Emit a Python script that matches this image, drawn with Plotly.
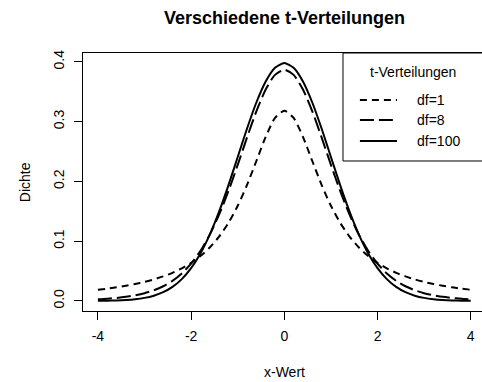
import plotly.graph_objects as go

# x positions
x_vals = [-4.0, -3.8, -3.6, -3.4, -3.2, -3.0, -2.8, -2.6, -2.4, -2.2, -2.0,
          -1.8, -1.6, -1.4, -1.2, -1.0, -0.8, -0.6, -0.4, -0.2, 0.0,
          0.2, 0.4, 0.6, 0.8, 1.0, 1.2, 1.4, 1.6, 1.8, 2.0,
          2.2, 2.4, 2.6, 2.8, 3.0, 3.2, 3.4, 3.6, 3.8, 4.0]

dens_df1 = [0.01872, 0.02062, 0.02280, 0.02534, 0.02832, 0.03183, 0.03601, 0.04102, 0.04709, 0.05451, 0.06366,
            0.07507, 0.08941, 0.10754, 0.13046, 0.15915, 0.19409, 0.23405, 0.27441, 0.30607, 0.31831,
            0.30607, 0.27441, 0.23405, 0.19409, 0.15915, 0.13046, 0.10754, 0.08941, 0.07507, 0.06366,
            0.05451, 0.04709, 0.04102, 0.03601, 0.03183, 0.02832, 0.02534, 0.02280, 0.02062, 0.01872]

dens_df8 = [0.00276, 0.00373, 0.00507, 0.00692, 0.00948, 0.01301, 0.01788, 0.02457, 0.03369, 0.04599, 0.06237,
            0.08373, 0.11087, 0.14426, 0.18360, 0.22761, 0.27350, 0.31721, 0.35373, 0.37812, 0.38670,
            0.37812, 0.35373, 0.31721, 0.27350, 0.22761, 0.18360, 0.14426, 0.11087, 0.08373, 0.06237,
            0.04599, 0.03369, 0.02457, 0.01788, 0.01301, 0.00948, 0.00692, 0.00507, 0.00373, 0.00276]

dens_df100 = [0.00022, 0.00044, 0.00085, 0.00159, 0.00289, 0.00513, 0.00880, 0.01464, 0.02354, 0.03657, 0.05491,
              0.07953, 0.11103, 0.14932, 0.19331, 0.24076, 0.28834, 0.33191, 0.36708, 0.39000, 0.39795,
              0.39000, 0.36708, 0.33191, 0.28834, 0.24076, 0.19331, 0.14932, 0.11103, 0.07953, 0.05491,
              0.03657, 0.02354, 0.01464, 0.00880, 0.00513, 0.00289, 0.00159, 0.00085, 0.00044, 0.00022]

series_labels = ["df=1", "df=8", "df=100"]
x_ticks = [-4, -2, 0, 2, 4]
y_ticks = [0.0, 0.1, 0.2, 0.3, 0.4]

FONT = "Liberation Sans, Arial, sans-serif"
dashes = ["7px,5px", "14px,5px", "solid"]
series = [dens_df1, dens_df8, dens_df100]

fig = go.Figure()
for ys, d, lab in zip(series, dashes, series_labels):
    fig.add_trace(go.Scatter(x=x_vals, y=ys, mode="lines", name=lab,
                             line=dict(color="black", width=2, dash=d, shape="spline", smoothing=0.6),
                             showlegend=False))

fig.update_layout(
    width=482, height=382,
    margin=dict(l=83, r=0, t=53, b=71, autoexpand=False),
    paper_bgcolor="white", plot_bgcolor="white",
    font=dict(family=FONT, size=14, color="black"),
    xaxis=dict(range=[-4.32, 4.242], tickvals=x_ticks, ticktext=[str(v) for v in x_ticks],
               showgrid=False, zeroline=False, showline=True, mirror=True,
               linecolor="black", linewidth=1, ticks="outside", ticklen=8,
               tickcolor="black", tickwidth=1, tickfont=dict(size=14), ticklabelstandoff=4),
    yaxis=dict(range=[-0.0168, 0.4147], tickvals=y_ticks, ticktext=[f"{v:.1f}" for v in y_ticks],
               showgrid=False, zeroline=False, showline=True, mirror=False,
               linecolor="black", linewidth=1, ticks="outside", ticklen=8,
               tickcolor="black", tickwidth=1, tickfont=dict(size=14), tickangle=-90,
               ticklabelstandoff=4),
)

# titles
fig.add_annotation(text="<b>Verschiedene t-Verteilungen</b>", xref="paper", yref="paper",
                   x=0.505, y=1.1357, xanchor="center", yanchor="middle", showarrow=False,
                   font=dict(size=18, family=FONT, color="black"))
fig.add_annotation(text="x-Wert", xref="paper", yref="paper", x=0.505, y=-0.236,
                   xanchor="center", yanchor="middle", showarrow=False, font=dict(size=14))
fig.add_annotation(text="Dichte", xref="paper", yref="paper", x=-0.145, y=0.5, textangle=-90,
                   xanchor="center", yanchor="middle", showarrow=False, font=dict(size=14))

# legend box (R style, top right)
fig.add_shape(type="rect", xref="paper", yref="paper", x0=0.6516, x1=1.05, y0=0.5814, y1=1.0,
              line=dict(color="black", width=1), fillcolor="white", layer="above")
fig.add_annotation(text="t-Verteilungen", xref="paper", yref="paper", x=0.827, y=0.926,
                   xanchor="center", yanchor="middle", showarrow=False, font=dict(size=14))
row_y = [0.8178, 0.7403, 0.6589]
for lab, d, ry in zip(series_labels, dashes, row_y):
    fig.add_shape(type="line", xref="paper", yref="paper", x0=0.694, x1=0.787, y0=ry, y1=ry,
                  line=dict(color="black", width=2, dash=d), layer="above")
    fig.add_annotation(text=lab, xref="paper", yref="paper", x=0.832, y=ry,
                       xanchor="left", yanchor="middle", showarrow=False, font=dict(size=14))

fig.write_html("out.html",
               config={"displayModeBar": False, "staticPlot": True},
               post_script="document.body.style.margin='0px';document.body.style.overflow='hidden';")
